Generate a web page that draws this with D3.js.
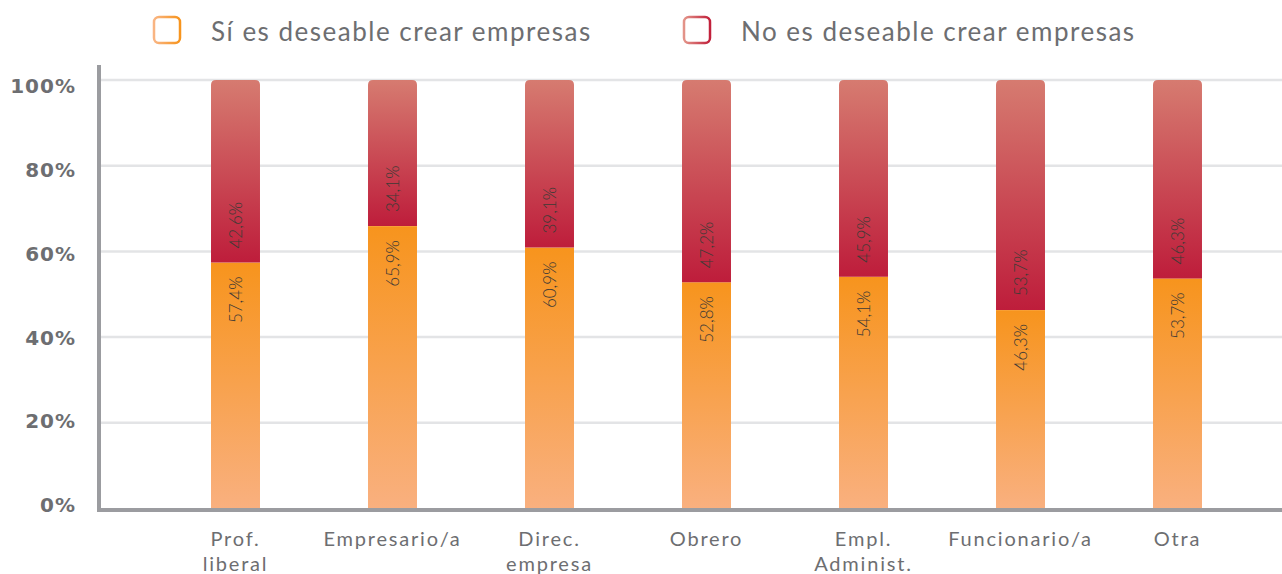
<!DOCTYPE html>
<html>
<head>
<meta charset="utf-8">
<script src="https://cdn.jsdelivr.net/npm/d3@7"></script>
<style>
  html, body { margin: 0; padding: 0; background: #fff; }
  svg { display: block; }
</style>
</head>
<body>
<div id="chart"></div>
<script>
// data
const categories = [["Prof.", "liberal"], ["Empresario/a"], ["Direc.", "empresa"], ["Obrero"], ["Empl.", "Administ."], ["Funcionario/a"], ["Otra"]];
const siValues = [57.4, 65.9, 60.9, 52.8, 54.1, 46.3, 53.7];
const noValues = [42.6, 34.1, 39.1, 47.2, 45.9, 53.7, 46.3];
const yTicks = [0, 20, 40, 60, 80, 100];
const seriesNames = ["Sí es deseable crear empresas", "No es deseable crear empresas"];

const width = 1282, height = 574;
const grey = "#6d6e71";

const svg = d3.select("#chart").append("svg")
    .attr("xmlns", "http://www.w3.org/2000/svg")
    .attr("width", width)
    .attr("height", height);

const defs = svg.append("defs");

// gradients for the two segments and the legend boxes
function vGrad(id, top, bottom) {
    const g = defs.append("linearGradient").attr("id", id)
        .attr("x1", 0).attr("y1", 0).attr("x2", 0).attr("y2", 1);
    g.append("stop").attr("offset", "0%").attr("stop-color", top);
    g.append("stop").attr("offset", "100%").attr("stop-color", bottom);
}
function hGrad(id, left, right) {
    const g = defs.append("linearGradient").attr("id", id)
        .attr("x1", 0).attr("y1", 0).attr("x2", 1).attr("y2", 0);
    g.append("stop").attr("offset", "0%").attr("stop-color", left);
    g.append("stop").attr("offset", "100%").attr("stop-color", right);
}
vGrad("gOrange", "#f7941d", "#f9b07f");
vGrad("gRed", "#d67b70", "#be1d3b");
hGrad("lOrange", "#f9b583", "#f7941d");
hGrad("lRed", "#e39489", "#c1203b");

const x = d3.scaleBand()
    .domain(d3.range(categories.length))
    .range([157, 1256])
    .paddingInner(0.688)
    .paddingOuter(0.344);

const y = d3.scaleLinear().domain([0, 100]).range([508.5, 80]);
// tick labels sit on a slightly tighter spacing than the grid
const yLab = d3.scaleLinear().domain([0, 100]).range([505, 86]);

// grid lines
svg.append("g").selectAll("line")
    .data(yTicks.filter(d => d > 0))
    .join("line")
    .attr("x1", 100).attr("x2", width)
    .attr("y1", d => y(d)).attr("y2", d => y(d))
    .attr("stroke", "#e3e4e6")
    .attr("stroke-width", 2.5);

// y tick labels
svg.append("g").selectAll("text")
    .data(yTicks)
    .join("text")
    .attr("x", 76)
    .attr("y", d => yLab(d))
    .attr("dy", "0.36em")
    .attr("text-anchor", "end")
    .attr("font-family", "DejaVu Sans")
    .attr("font-weight", "bold")
    .attr("font-size", 20)
    .attr("letter-spacing", 1)
    .attr("fill", grey)
    .text(d => d + "%");

// bars
const bars = svg.append("g").selectAll("g")
    .data(categories.map((c, i) => ({ i, si: siValues[i], no: noValues[i] })))
    .join("g");

const bw = x.bandwidth();

bars.append("rect")
    .attr("x", d => x(d.i))
    .attr("y", d => y(d.si))
    .attr("width", bw)
    .attr("height", d => y(0) - y(d.si))
    .attr("fill", "url(#gOrange)");

bars.append("path")
    .attr("d", d => {
        const x0 = x(d.i), x1 = x0 + bw, top = y(d.si + d.no), bot = y(d.si), r = 5;
        return `M${x0},${bot}V${top + r}Q${x0},${top} ${x0 + r},${top}H${x1 - r}Q${x1},${top} ${x1},${top + r}V${bot}Z`;
    })
    .attr("fill", "url(#gRed)");

const labelStyle = sel => sel
    .attr("font-family", "Lato")
    .attr("font-weight", 300)
    .attr("font-size", 17)
    .attr("fill", "#3e3a36");

bars.append("text")
    .attr("transform", d => `translate(${x(d.i) + bw / 2 + 6},${y(d.si) + 14}) rotate(-90)`)
    .attr("text-anchor", "end")
    .call(labelStyle)
    .text(d => d3.format(".1f")(d.si).replace(".", ",") + "%");

bars.append("text")
    .attr("transform", d => `translate(${x(d.i) + bw / 2 + 6},${y(d.si) - 14}) rotate(-90)`)
    .attr("text-anchor", "start")
    .call(labelStyle)
    .text(d => d3.format(".1f")(d.no).replace(".", ",") + "%");

// axes lines
svg.append("line")
    .attr("x1", 99).attr("x2", 99).attr("y1", 65).attr("y2", 512)
    .attr("stroke", "#9b9ca0").attr("stroke-width", 4);
svg.append("line")
    .attr("x1", 97).attr("x2", width).attr("y1", 510).attr("y2", 510)
    .attr("stroke", "#9b9ca0").attr("stroke-width", 4);

// category labels
svg.append("g").selectAll("text")
    .data(categories)
    .join("text")
    .attr("x", (d, i) => x(i) + bw / 2)
    .attr("y", 546)
    .attr("text-anchor", "middle")
    .attr("font-family", "Lato")
    .attr("font-size", 20)
    .attr("letter-spacing", 1.8)
    .attr("fill", grey)
    .selectAll("tspan")
    .data(d => d)
    .join("tspan")
    .attr("x", function () { return this.parentNode.getAttribute("x"); })
    .attr("dy", (d, j) => j === 0 ? 0 : 25)
    .text(d => d);

// legend
const legendX = [154, 684];
const legend = svg.append("g").selectAll("g")
    .data(seriesNames)
    .join("g")
    .attr("transform", (d, i) => `translate(${legendX[i]},17)`);

legend.append("rect")
    .attr("width", 26).attr("height", 26)
    .attr("rx", 5)
    .attr("fill", "none")
    .attr("stroke", (d, i) => i === 0 ? "url(#lOrange)" : "url(#lRed)")
    .attr("stroke-width", 2.5);

legend.append("text")
    .attr("x", 57)
    .attr("y", 24)
    .attr("font-family", "Lato")
    .attr("font-size", 26)
    .attr("letter-spacing", 1.5)
    .attr("fill", grey)
    .text(d => d);
</script>
</body>
</html>
